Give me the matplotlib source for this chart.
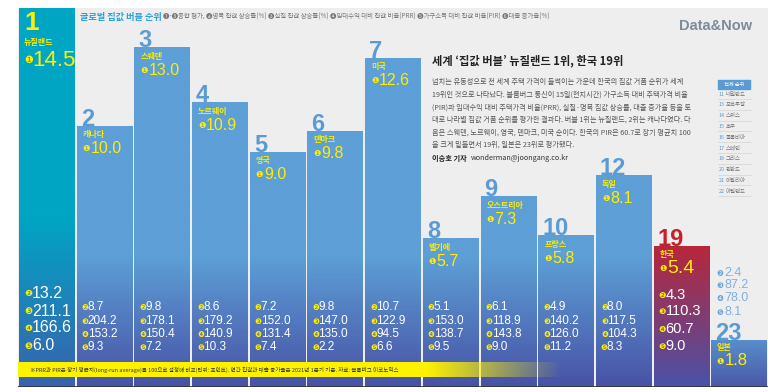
import numpy as np
import matplotlib.pyplot as plt
from matplotlib.colors import to_rgb

# ranking data
ranks = [1, 2, 3, 4, 5, 6, 7, 8, 9, 10, 12, 19, 23]
countries = ["뉴질랜드", "캐나다", "스웨덴", "노르웨이", "영국", "덴마크", "미국",
             "벨기에", "오스트리아", "프랑스", "독일", "한국", "일본"]
overall = [14.5, 10.0, 13.0, 10.9, 9.0, 9.8, 12.6, 5.7, 7.3, 5.8, 8.1, 5.4, 1.8]
price_growth = [13.2, 8.7, 9.8, 8.6, 7.2, 9.8, 10.7, 5.1, 6.1, 4.9, 8.0, 4.3, 2.4]
prr = [211.1, 204.2, 178.1, 179.2, 152.0, 147.0, 122.9, 153.0, 118.9, 140.2, 117.5, 110.3, 87.2]
pir = [166.6, 153.2, 150.4, 140.9, 131.4, 135.0, 94.5, 138.7, 143.8, 126.0, 104.3, 60.7, 78.0]
loan_growth = [6.0, 9.3, 7.2, 10.3, 7.4, 2.2, 6.6, 9.5, 9.0, 11.2, 8.3, 9.0, 8.1]

other_ranks = [11, 13, 14, 15, 16, 17, 18, 20, 21, 22]
other_names = ["네덜란드", "포르투갈", "스위스", "호주", "콜롬비아", "스페인", "그리스",
               "핀란드", "이탈리아", "아일랜드"]

KR = ["Noto Sans CJK KR", "DejaVu Sans"]
NUM = ["Liberation Sans Narrow", "Liberation Sans", "DejaVu Sans"]
CIRC = ["DejaVu Sans"]
YEL = "#ffee00"
BLUE = "#5b9bd5"
RED = "#c8202a"

W, H = 773, 392
fig = plt.figure(figsize=(W / 100, H / 100), dpi=100)
fig.patch.set_facecolor("white")
ax = fig.add_axes([18 / W, 5 / H, 750 / W, 379 / H])
ax.set_facecolor("#eeeeee")
for s in ax.spines.values():
    s.set_visible(False)
ax.set_xticks([])
ax.set_yticks([])

x = np.arange(len(overall))
bw = 0.965
bars = ax.bar(x, overall, width=bw, color=BLUE, zorder=2)


def gradient(top, bot, h, span):
    ys = np.linspace(0, h, 200)
    t = np.clip(ys / span, 0, 1)[:, None]
    c = np.array(to_rgb(bot)) * (1 - t) + np.array(to_rgb(top)) * t
    return c[:, None, :]


for i, b in enumerate(bars):
    h = overall[i]
    if i == 0:
        img = gradient("#00a5c4", "#3a62ae", h, 6.5)
    elif ranks[i] == 19:
        img = gradient("#c8202a", "#4a52a8", h, h * 1.15)
    elif ranks[i] == 23:
        img = gradient("#5d9fd6", "#4a58a8", h, h * 1.3)
    else:
        img = gradient("#5d9fd6", "#4852a6", h, 5.0)
    im = ax.imshow(img, extent=[b.get_x(), b.get_x() + bw, 0, h], origin="lower",
                   aspect="auto", zorder=2.1)
    im.set_clip_path(b)

ax.set_xlim(-0.5, 12.5)
ax.set_ylim(0, 14.5)
ax.axhline(0, color="#333333", lw=1.2, zorder=3)


def put(xy, dx, dy, s, **kw):
    ax.annotate(s, xy, xytext=(dx, dy), textcoords="offset pixels",
                zorder=5, annotation_clip=False, **kw)


for i in range(len(overall)):
    left = x[i] - bw / 2
    top = (left, overall[i])
    base = (left, 0)
    rk = ranks[i]
    if i == 0:
        put(top, 5, -3, str(rk), color=YEL, fontsize=19, fontweight="bold",
            family=NUM, va="top", ha="left")
        put(top, 5, -35, countries[i], color=YEL, fontsize=5.8, fontweight="bold",
            family=KR, va="center")
        put(top, 5, -52, "❶", color=YEL, fontsize=7, family=CIRC, va="center")
        put(top, 13, -52, f"{overall[i]:.1f}", color=YEL, fontsize=16,
            family=NUM, va="center")
        rows = [293, 311, 328, 346]
        fs_row, circ_fs, tx = 11.5, 6.5, 13
    elif rk == 23:
        put(top, 4, 0, str(rk), color=BLUE, fontsize=17, fontweight="bold",
            family=NUM, va="baseline")
        put(top, 5, -8, countries[i], color=YEL, fontsize=5.8, fontweight="bold",
            family=KR, va="center")
        put(top, 5, -21, "❶", color=YEL, fontsize=6, family=CIRC, va="center")
        put(top, 13, -21, f"{overall[i]:.1f}", color=YEL, fontsize=12,
            family=NUM, va="center")
        rows = [273, 285, 298, 312]
        fs_row, circ_fs, tx = 9, 5.5, 13
    else:
        col = RED if rk == 19 else BLUE
        big = rk == 19
        put(top, 4, 0, str(rk), color=col, fontsize=17, fontweight="bold",
            family=NUM, va="baseline")
        put(top, 6, -9, countries[i], color=YEL, fontsize=5.8, fontweight="bold",
            family=KR, va="center")
        put(top, 6, -23, "❶", color=YEL, fontsize=6, family=CIRC, va="center")
        put(top, 14, -23, f"{overall[i]:.1f}", color=YEL,
            fontsize=14 if big else 11.5, family=NUM, va="center")
        if big:
            rows = [295, 311, 329, 346]
            fs_row, circ_fs, tx = 10.5, 6, 12
        else:
            rows = [307, 321, 334, 347]
            fs_row, circ_fs, tx = 8.5, 5.5, 11
    vals = [price_growth[i], prr[i], pir[i], loan_growth[i]]
    txt_col = "#7fb0e0" if rk == 23 else "white"
    cc = "#6aa3da" if rk == 23 else YEL
    for k, (py, v) in enumerate(zip(rows, vals)):
        dy = 387 - py
        put(base, 5, dy, "❷❸❹❺"[k], color=cc, fontsize=circ_fs, family=CIRC,
            va="center")
        put(base, tx, dy, f"{v:.1f}", color=txt_col, fontsize=fs_row,
            family=NUM, va="center")

# footnote band with fade
band = fig.add_axes([18 / W, (H - 377) / H, 545 / W, 15 / H])
band.axis("off")
grad = np.ones((1, 300, 4))
grad[0, :, :3] = to_rgb("#fff200")
grad[0, :, 3] = np.clip((1 - np.linspace(0, 1, 300)) / 0.25, 0, 1)
band.imshow(grad, aspect="auto", extent=[0, 1, 0, 1])
band.set_xlim(0, 1)
band.set_ylim(0, 1)
band.text(12 / 545, 0.5, "※PRR과 PIR은 장기 평균치(long-run average)를 100으로 설정해 비교(단위: 포인트). "
          "연간 집값과 대출 증가율은 2021년 1분기 기준. 자료: 블룸버그 이코노믹스",
          fontsize=4.0, family=KR, color="#333333", va="center")


def ftext(px, py, s, **kw):
    fig.text(px / W, 1 - py / H, s, **kw)


ftext(80, 17, "글로벌 집값 버블 순위", fontsize=6.6, fontweight="bold", color="#2b9fd6",
      family=KR, va="center")
ftext(163, 17, "❶-❺종합 평가, ❷명목 집값 상승률(%) ❸실질 집값 상승률(%) "
      "❹임대수익 대비 집값 비율(PRR) ❺가구소득 대비 집값 비율(PIR) ❻대출 증가율(%)",
      fontsize=4.6, color="#777777", family=KR, va="center")
ftext(752, 26, "Data&Now", fontsize=10.5, fontweight="bold", color="#7d8c9b",
      family=["Liberation Sans", "DejaVu Sans"], va="center", ha="right")

ftext(432, 61, "세계 ‘집값 버블’ 뉴질랜드 1위, 한국 19위", fontsize=8.1, fontweight="bold",
      color="#222222", family=KR, va="center")
body = [
    "넘치는 유동성으로 전 세계 주택 가격이 들썩이는 가운데 한국의 집값 거품 순위가 세계",
    "19위인 것으로 나타났다. 블룸버그 통신이 15일(현지시간) 가구소득 대비 주택가격 비율",
    "(PIR)과 임대수익 대비 주택가격 비율(PRR), 실질·명목 집값 상승률, 대출 증가율 등을 토",
    "대로 나라별 집값 거품 순위를 평가한 결과다. 버블 1위는 뉴질랜드, 2위는 캐나다였다. 다",
    "음은 스웨덴, 노르웨이, 영국, 덴마크, 미국 순이다. 한국의 PIR은 60.7로 장기 평균치 100",
    "을 크게 밑돌면서 19위, 일본은 23위로 평가됐다.",
]
for k, line in enumerate(body):
    ftext(432, 82 + 12.6 * k, line, fontsize=5.15, color="#555555", family=KR, va="center")
ftext(432, 158, "이승호 기자", fontsize=5.2, fontweight="bold", color="#222222",
      family=KR, va="center")
ftext(471, 158, "wonderman@joongang.co.kr", fontsize=5.2, color="#333333",
      family=KR, va="center")

# side list of other ranks
ax.add_patch(plt.Rectangle((718 / W, 1 - 89 / H), 32 / W, 9 / H,
                           transform=fig.transFigure, color=BLUE, zorder=4))
ftext(734, 84.5, "전체 순위", fontsize=3.8, color="white", family=KR, va="center",
      ha="center")
for k, (r, n) in enumerate(zip(other_ranks, other_names)):
    py = 94 + 10.8 * k
    ftext(719, py, f"{r}", fontsize=3.9, color=BLUE, family=KR, va="center")
    ftext(726, py, n, fontsize=3.9, color="#777777", family=KR, va="center")
    fig.add_artist(plt.Line2D([718 / W, 751 / W], [1 - (py + 5) / H] * 2,
                              color="#cccccc", lw=0.4, transform=fig.transFigure))

fig.savefig("out.png", dpi=100, facecolor="white")
